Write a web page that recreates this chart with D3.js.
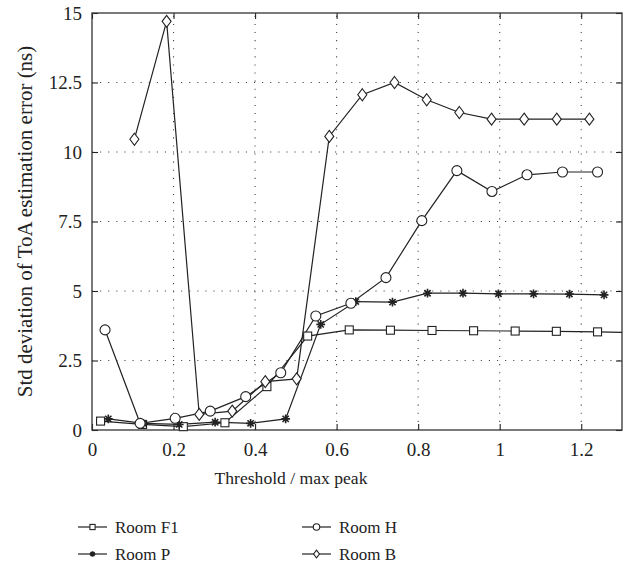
<!DOCTYPE html>
<html>
<head>
<meta charset="utf-8">
<script src="https://cdn.jsdelivr.net/npm/d3@7"></script>
<style>
  body { margin: 0; background: #fff; }
  svg text { font-family: "Liberation Serif", "DejaVu Serif", serif; fill: #222; }
</style>
</head>
<body>
<div id="chart"></div>
<script>
// data
var xTicks = [0, 0.2, 0.4, 0.6, 0.8, 1, 1.2];
var yTicks = [0, 2.5, 5, 7.5, 10, 12.5, 15];
var yTickLabels = ["0", "2.5", "5", "7.5", "10", "12.5", "15"];

var f1X = [0.021, 0.124, 0.224, 0.326, 0.429, 0.529, 0.631, 0.732, 0.834, 0.936, 1.038, 1.139, 1.240, 1.342];
var f1Y = [0.32, 0.20, 0.12, 0.26, 1.56, 3.38, 3.60, 3.59, 3.58, 3.57, 3.56, 3.55, 3.53, 3.50];
var hX = [0.032, 0.118, 0.204, 0.290, 0.377, 0.463, 0.549, 0.635, 0.721, 0.809, 0.895, 0.981, 1.067, 1.154, 1.240];
var hY = [3.60, 0.24, 0.42, 0.68, 1.20, 2.06, 4.10, 4.56, 5.48, 7.53, 9.33, 8.58, 9.18, 9.28, 9.28];
var pX = [0.040, 0.126, 0.214, 0.302, 0.389, 0.475, 0.561, 0.647, 0.737, 0.823, 0.910, 0.997, 1.083, 1.171, 1.256];
var pY = [0.40, 0.24, 0.20, 0.28, 0.24, 0.40, 3.80, 4.62, 4.60, 4.92, 4.92, 4.90, 4.90, 4.89, 4.86];
var bX = [0.104, 0.183, 0.263, 0.344, 0.425, 0.502, 0.582, 0.663, 0.742, 0.821, 0.901, 0.980, 1.060, 1.140, 1.220];
var bY = [10.46, 14.70, 0.56, 0.68, 1.74, 1.84, 10.56, 12.06, 12.50, 11.88, 11.42, 11.18, 11.18, 11.18, 11.18];

var seriesNames = ["Room F1", "Room P", "Room H", "Room B"];
var seriesShapes = ["square", "star", "circle", "diamond"];

(function() {
  "use strict";
  var W = 632, H = 568;
  var m = { left: 92, top: 13, right: 622, bottom: 430 };

  var svg = d3.select("#chart").append("svg")
    .attr("width", W).attr("height", H);

  var x = d3.scaleLinear().domain([0, 1.3]).range([m.left, m.right]);
  var y = d3.scaleLinear().domain([0, 15]).range([m.bottom, m.top]);

  function zip(xs, ys) { return xs.map(function(v, i) { return [v, ys[i]]; }); }
  var series = [zip(f1X, f1Y), zip(pX, pY), zip(hX, hY), zip(bX, bY)];

  svg.append("clipPath").attr("id", "plotClip")
    .append("rect")
    .attr("x", m.left).attr("y", m.top - 6)
    .attr("width", m.right - m.left).attr("height", m.bottom - m.top + 12);

  // dotted grid
  var grid = svg.append("g").attr("stroke", "#444").attr("stroke-width", 1.1)
    .attr("stroke-dasharray", "1.1,7");
  grid.selectAll(".gx").data(xTicks.slice(1)).enter().append("line")
    .attr("x1", function(d) { return x(d); }).attr("x2", function(d) { return x(d); })
    .attr("y1", m.bottom).attr("y2", m.top);
  grid.selectAll(".gy").data(yTicks.slice(1, -1)).enter().append("line")
    .attr("y1", function(d) { return y(d); }).attr("y2", function(d) { return y(d); })
    .attr("x1", m.left).attr("x2", m.right);

  // axes with inward ticks, mirrored
  var tl = 6;
  svg.append("g").attr("transform", "translate(0," + m.bottom + ")")
    .call(d3.axisBottom(x).tickValues(xTicks).tickSize(-tl).tickPadding(10)
      .tickFormat(d3.format("~g")))
    .call(function(g) {
      g.select(".domain").remove();
      g.selectAll("text").attr("font-size", 19).attr("dy", "0.85em");
    });
  svg.append("g").attr("transform", "translate(0," + m.top + ")")
    .call(d3.axisTop(x).tickValues(xTicks).tickSize(-tl).tickFormat(""))
    .call(function(g) { g.select(".domain").remove(); });
  svg.append("g").attr("transform", "translate(" + m.left + ",0)")
    .call(d3.axisLeft(y).tickValues(yTicks).tickSize(-tl).tickPadding(10)
      .tickFormat(function(d, i) { return yTickLabels[i]; }))
    .call(function(g) {
      g.select(".domain").remove();
      g.selectAll("text").attr("font-size", 19);
    });
  svg.append("g").attr("transform", "translate(" + m.right + ",0)")
    .call(d3.axisRight(y).tickValues(yTicks).tickSize(-tl).tickFormat(""))
    .call(function(g) { g.select(".domain").remove(); });
  svg.selectAll(".tick line").attr("stroke", "#222").attr("stroke-width", 1.1);

  svg.append("rect")
    .attr("x", m.left).attr("y", m.top)
    .attr("width", m.right - m.left).attr("height", m.bottom - m.top)
    .attr("fill", "none").attr("stroke", "#333").attr("stroke-width", 1.3);

  // markers
  function marker(g, shape, s) {
    if (shape === "square") {
      g.append("rect").attr("x", -s).attr("y", -s).attr("width", 2 * s).attr("height", 2 * s)
        .attr("fill", "#fff").attr("stroke", "#222").attr("stroke-width", 1.1);
    } else if (shape === "circle") {
      g.append("circle").attr("r", s * 1.25)
        .attr("fill", "#fff").attr("stroke", "#222").attr("stroke-width", 1.1);
    } else if (shape === "diamond") {
      var d = s * 1.5;
      g.append("path").attr("d", "M0," + (-d) + "L" + (d * 0.75) + ",0L0," + d + "L" + (-d * 0.75) + ",0Z")
        .attr("fill", "#fff").attr("stroke", "#222").attr("stroke-width", 1.1);
    } else {
      var r = s * 1.1, p = "";
      for (var k = 0; k < 4; k++) {
        var a = k * Math.PI / 4;
        p += "M" + (-r * Math.cos(a)) + "," + (-r * Math.sin(a)) + "L" + (r * Math.cos(a)) + "," + (r * Math.sin(a));
      }
      g.append("path").attr("d", p).attr("stroke", "#222").attr("stroke-width", 1.6);
    }
  }

  var line = d3.line().x(function(d) { return x(d[0]); }).y(function(d) { return y(d[1]); });
  var plot = svg.append("g").attr("clip-path", "url(#plotClip)");
  series.forEach(function(data, i) {
    plot.append("path").datum(data).attr("d", line)
      .attr("fill", "none").attr("stroke", "#222").attr("stroke-width", 1.2);
  });
  series.forEach(function(data, i) {
    plot.selectAll(".m" + i).data(data).enter().append("g")
      .attr("transform", function(d) { return "translate(" + x(d[0]) + "," + y(d[1]) + ")"; })
      .each(function() { marker(d3.select(this), seriesShapes[i], 4); });
  });

  // axis titles
  svg.append("text").attr("x", 291).attr("y", 484).attr("text-anchor", "middle")
    .attr("font-size", 17.6).text("Threshold / max peak");
  svg.append("text").attr("transform", "translate(32," + ((m.top + m.bottom) / 2) + ") rotate(-90)")
    .attr("text-anchor", "middle").attr("font-size", 21)
    .text("Std deviation of ToA estimation error (ns)");

  // legend
  var legPos = [[78, 527], [78, 554], [302, 527], [302, 554]];
  seriesNames.forEach(function(name, i) {
    var g = svg.append("g").attr("transform", "translate(" + legPos[i][0] + "," + legPos[i][1] + ")");
    g.append("line").attr("x1", 0).attr("x2", 29).attr("stroke", "#222").attr("stroke-width", 1.2);
    var mg = g.append("g").attr("transform", "translate(14.5,0)");
    marker(mg, seriesShapes[i], 2.6);
    g.append("text").attr("x", 37).attr("dy", "0.33em").attr("font-size", 17).text(name);
  });
})();
</script>
</body>
</html>
